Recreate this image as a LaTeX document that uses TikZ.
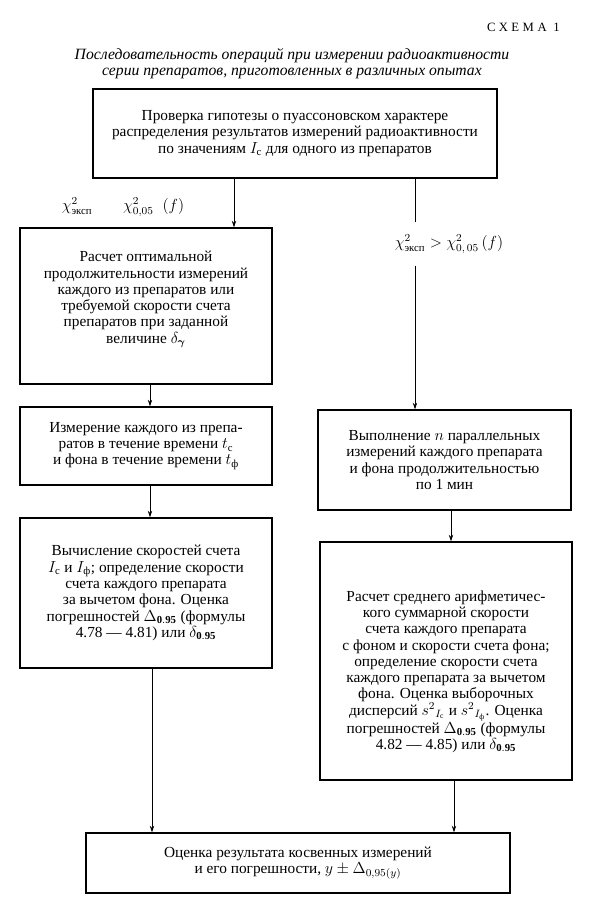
\documentclass[tikz,border=0pt]{standalone}
\usepackage{amsmath}
\usepackage{fontspec}
\setmainfont{Liberation Serif}
\usetikzlibrary{arrows.meta,positioning}

\begin{document}
\begin{tikzpicture}[x=0.75pt,y=0.75pt,yscale=-1,xscale=1,
	box/.style={draw, line width=0.8pt, align=center, inner sep=0pt, font=\fontsize{11.5}{12.2}\selectfont},
	lbl/.style={inner sep=0.75pt, font=\fontsize{11.5}{12.2}\selectfont},
	arr/.style={-{Stealth[length=5pt,width=3.2pt]}, line width=0.6pt},
	ln/.style={line width=0.6pt}]
	\useasboundingbox (0,0) rectangle (590,904);
	
	% Heading
	\node [anchor=east, inner sep=0pt, font=\fontsize{9.5}{11}\selectfont] (schema) at (560,27) {\addfontfeature{LetterSpace=28}СХЕМА 1};
	\node [align=center, inner sep=0pt, font=\fontsize{11.75}{12}\selectfont\itshape] (title) at (292,64) {Последовательность операций при измерении радиоактивности\\серии препаратов, приготовленных в различных опытах};
	
	% Boxes
	\node [box, minimum width=303pt, minimum height=66.75pt] (top) at (295,133.5) {Проверка гипотезы о пуассоновском характере\\распределения результатов измерений радиоактивности\\по значениям $I_{\text{с}}$ для одного из препаратов};
	\node [box, minimum width=189pt, minimum height=117pt] (L1) at (146,306) {};
	\node [lbl, align=center, below=17pt of L1.north] (L1t) {Расчет оптимальной\\продолжительности измерений\\каждого из препаратов или\\требуемой скорости счета\\препаратов при заданной\\величине $\delta_{\boldsymbol{\gamma}}$};
	\node [box, minimum width=189pt, minimum height=58.5pt] (L2) at (146,446) {Измерение каждого из препа-\\ратов в течение времени $t_{\text{с}}$\\и фона в течение времени $t_{\text{ф}}$};
	\node [box, minimum width=189pt, minimum height=112.5pt] (L3) at (146,593) {Вычисление скоростей счета\\$I_{\text{с}}$ и $I_{\text{ф}}$; определение скорости\\счета каждого препарата\\за вычетом фона. Оценка\\погрешностей $\Delta_{\mathbf{0.95}}$ (формулы\\4.78 --- 4.81) или $\delta_{\mathbf{0.95}}$};
	\node [box, minimum width=189.75pt, minimum height=75pt] (R1) at (444.5,460) {Выполнение $n$ параллельных\\измерений каждого препарата\\и фона продолжительностью\\по 1 мин};
	\node [box, minimum width=189pt, minimum height=178.5pt] (R2) at (446,661) {};
	\node [lbl, align=center, below=36pt of R2.north] (R2t) {Расчет среднего арифметичес-\\кого суммарной скорости\\счета каждого препарата\\с фоном и скорости счета фона;\\определение скорости счета\\каждого препарата за вычетом\\фона. Оценка выборочных\\дисперсий $s^2{}_{I_{\text{с}}}$ и $s^2{}_{I_{\text{ф}}}$. Оценка\\погрешностей $\Delta_{\mathbf{0.95}}$ (формулы\\4.82 --- 4.85) или $\delta_{\mathbf{0.95}}$};
	\node [box, minimum width=318pt, minimum height=45pt] (bot) at (298,863) {Оценка результата косвенных измерений\\и его погрешности, $y\pm\Delta_{0,95(y)}$};
	
	% Conditions
	\node [lbl] (chiL) at (123,207) {$\chi^2_{\text{эксп}}\qquad\chi^2_{0,05}\;\;(f)$};
	\node [lbl, inner ysep=9pt] (chiR) at (449,244) {$\chi^2_{\text{эксп}}>\chi^2_{0,\,05}\,(f)$};
	
	% Connectors
	\coordinate (xa) at (234,0);
	\coordinate (xb) at (415,0);
	\coordinate (xc) at (150,0);
	\coordinate (xd) at (152,0);
	\coordinate (xe) at (451,0);
	\coordinate (xf) at (454,0);
	\draw [arr] (top.south -| xa) -- (L1.north -| xa);
	\draw [ln] (top.south -| xb) -- (chiR.north -| xb);
	\draw [arr] (chiR.south -| xb) -- (R1.north -| xb);
	\draw [arr] (L1.south -| xc) -- (L2.north -| xc);
	\draw [arr] (L2.south -| xc) -- (L3.north -| xc);
	\draw [arr] (L3.south -| xd) -- (bot.north -| xd);
	\draw [arr] (R1.south -| xe) -- (R2.north -| xe);
	\draw [arr] (R2.south -| xf) -- (bot.north -| xf);
	
\end{tikzpicture}
\end{document}
